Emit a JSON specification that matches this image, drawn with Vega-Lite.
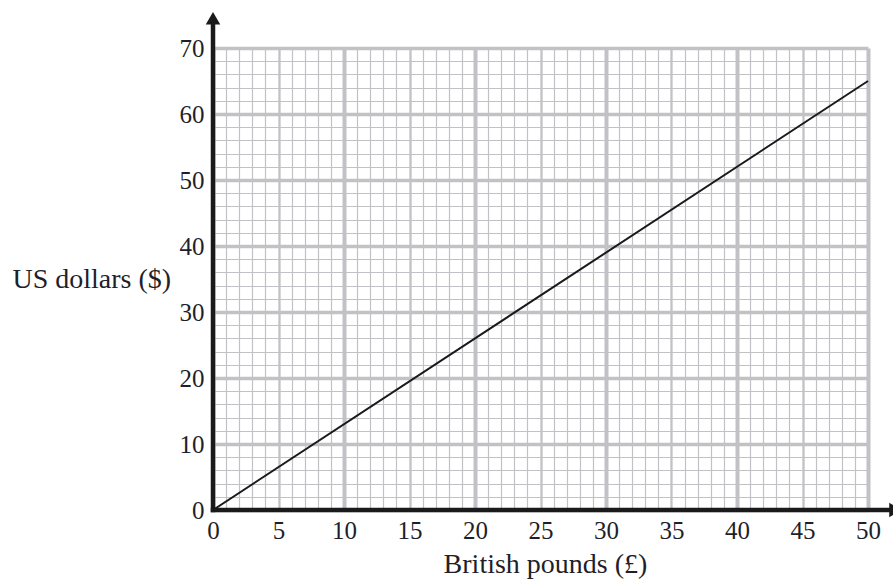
{
  "$schema": "https://vega.github.io/schema/vega-lite/v6.json",
  "autosize": {"type": "none"},
  "padding": {"left": 213, "top": 48, "right": 25, "bottom": 71},
  "width": 655,
  "height": 462,
  "background": "white",
  "config": {"view": {"stroke": null}, "font": "'Liberation Serif', 'Times New Roman', Times, serif"},
  "datasets": {
    "conversion": [
      {"pounds": 0, "dollars": 0},
      {"pounds": 50, "dollars": 65}
    ],
    "axisLines": [
      {"pounds": 0, "dollars": 0, "pounds_end": 52, "dollars_end": 0},
      {"pounds": 0, "dollars": 0, "pounds_end": 0, "dollars_end": 73.5}
    ],
    "arrowUp": [{"pounds": 0, "dollars": 74.5}],
    "arrowRight": [{"pounds": 52.1, "dollars": 0}]
  },
  "layer": [
    {
      "data": {"name": "conversion"},
      "mark": {"type": "line", "color": "#1a1a1a", "strokeWidth": 2},
      "encoding": {
        "x": {
          "field": "pounds",
          "type": "quantitative",
          "scale": {"domain": [0, 50], "nice": false, "zero": false},
          "axis": {
            "title": "British pounds (£)",
            "titleFont": "'Liberation Serif', 'Times New Roman', Times, serif",
            "titleFontSize": 28,
            "titleFontWeight": "normal",
            "titleColor": "#1f1f2a",
            "titleBaseline": "alphabetic",
            "titleX": 332,
            "titleY": 62,
            "values": [0,1,2,3,4,5,6,7,8,9,10,11,12,13,14,15,16,17,18,19,20,21,22,23,24,25,26,27,28,29,30,31,32,33,34,35,36,37,38,39,40,41,42,43,44,45,46,47,48,49,50],
            "tickCount": 200,
            "format": "d",
            "labelExpr": "datum.value % 5 === 0 ? datum.label : ''",
            "labelFont": "'Liberation Serif', 'Times New Roman', Times, serif",
            "labelFontSize": 25,
            "labelColor": "#1f1f2a",
            "labelPadding": 8,
            "labelOverlap": false,
            "labelFlush": false,
            "labelBound": false,
            "ticks": false,
            "domain": false,
            "grid": true,
            "gridColor": "#c2c2c6",
            "gridOpacity": 1,
            "gridWidth": {
              "condition": [
                {"test": "datum.value % 10 === 0", "value": 4},
                {"test": "datum.value % 5 === 0", "value": 2.3}
              ],
              "value": 1.2
            }
          }
        },
        "y": {
          "field": "dollars",
          "type": "quantitative",
          "scale": {"domain": [0, 70], "nice": false, "zero": false},
          "axis": {
            "title": "US dollars ($)",
            "titleFont": "'Liberation Serif', 'Times New Roman', Times, serif",
            "titleFontSize": 28,
            "titleFontWeight": "normal",
            "titleColor": "#1f1f2a",
            "titleAngle": 0,
            "titleAlign": "left",
            "titleBaseline": "alphabetic",
            "titleX": -201,
            "titleY": 239,
            "values": [0,2,4,6,8,10,12,14,16,18,20,22,24,26,28,30,32,34,36,38,40,42,44,46,48,50,52,54,56,58,60,62,64,66,68,70],
            "tickCount": 200,
            "format": "d",
            "labelExpr": "datum.value % 10 === 0 ? datum.label : ''",
            "labelFont": "'Liberation Serif', 'Times New Roman', Times, serif",
            "labelFontSize": 25,
            "labelColor": "#1f1f2a",
            "labelPadding": 9,
            "labelOverlap": false,
            "labelFlush": false,
            "labelBound": false,
            "ticks": false,
            "domain": false,
            "grid": true,
            "gridColor": "#c2c2c6",
            "gridOpacity": 1,
            "gridWidth": {
              "condition": {"test": "datum.value % 10 === 0", "value": 3.5},
              "value": 1.2
            }
          }
        }
      }
    },
    {
      "data": {"name": "axisLines"},
      "mark": {"type": "rule", "color": "#1a1a1a", "strokeWidth": 4.5, "strokeCap": "square"},
      "encoding": {
        "x": {"field": "pounds", "type": "quantitative"},
        "x2": {"field": "pounds_end"},
        "y": {"field": "dollars", "type": "quantitative"},
        "y2": {"field": "dollars_end"}
      }
    },
    {
      "data": {"name": "arrowUp"},
      "mark": {"type": "point", "shape": "triangle-up", "filled": true, "color": "#1a1a1a", "opacity": 1, "size": 210},
      "encoding": {
        "x": {"field": "pounds", "type": "quantitative"},
        "y": {"field": "dollars", "type": "quantitative"}
      }
    },
    {
      "data": {"name": "arrowRight"},
      "mark": {"type": "point", "shape": "triangle-right", "filled": true, "color": "#1a1a1a", "opacity": 1, "size": 210},
      "encoding": {
        "x": {"field": "pounds", "type": "quantitative"},
        "y": {"field": "dollars", "type": "quantitative"}
      }
    }
  ]
}
